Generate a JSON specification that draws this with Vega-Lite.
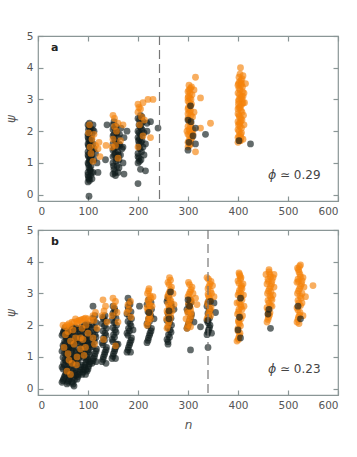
{
"$schema": "https://vega.github.io/schema/vega-lite/v6.json",
"background": "white",
"padding": {"left": 3, "top": 30, "right": 4, "bottom": 5},
"spacing": 6,
"config": {
  "font": "DejaVu Sans",
  "view": {"stroke": "#8a9696", "strokeWidth": 1.2},
  "axis": {"domain": false, "grid": false, "tickColor": "#8a9696", "tickWidth": 1.2, "tickSize": -5, "labelColor": "#555", "labelFontSize": 10.5, "labelFont": "DejaVu Sans", "titleFont": "DejaVu Sans", "titleFontWeight": "normal", "titleColor": "#555", "titleFontSize": 12, "titleFontStyle": "italic"}
},
"datasets": {
"a": [
{"n":102,"v":-0.05,"g":"k"},{"n":100,"v":0.4,"g":"k"},{"n":103,"v":0.45,"g":"k"},{"n":101,"v":0.55,"g":"k"},{"n":105,"v":0.6,"g":"k"},{"n":100,"v":0.7,"g":"k"},{"n":104,"v":0.75,"g":"k"},{"n":102,"v":0.85,"g":"k"},{"n":106,"v":0.9,"g":"k"},{"n":100,"v":1.0,"g":"k"},{"n":103,"v":1.05,"g":"k"},{"n":105,"v":1.15,"g":"k"},{"n":101,"v":1.2,"g":"k"},{"n":104,"v":1.3,"g":"k"},{"n":100,"v":1.35,"g":"k"},{"n":106,"v":1.4,"g":"k"},{"n":102,"v":1.5,"g":"k"},{"n":100,"v":1.6,"g":"k"},{"n":104,"v":1.65,"g":"k"},{"n":101,"v":1.75,"g":"k"},{"n":105,"v":1.8,"g":"k"},{"n":100,"v":1.9,"g":"k"},{"n":103,"v":1.95,"g":"k"},{"n":101,"v":2.05,"g":"k"},{"n":105,"v":2.1,"g":"k"},{"n":100,"v":2.2,"g":"k"},{"n":103,"v":2.25,"g":"k"},{"n":108,"v":0.5,"g":"k"},{"n":110,"v":0.7,"g":"k"},{"n":120,"v":0.7,"g":"k"},{"n":112,"v":1.1,"g":"k"},{"n":115,"v":1.3,"g":"k"},{"n":110,"v":1.6,"g":"k"},{"n":108,"v":1.9,"g":"k"},{"n":112,"v":2.0,"g":"k"},{"n":138,"v":2.2,"g":"k"},{"n":135,"v":1.1,"g":"k"},{"n":118,"v":1.0,"g":"k"},{"n":112,"v":1.45,"g":"k"},{"n":108,"v":1.25,"g":"k"},{"n":110,"v":2.2,"g":"k"},
{"n":102,"v":0.5,"g":"k"},{"n":100,"v":0.62,"g":"k"},{"n":104,"v":0.8,"g":"k"},{"n":101,"v":0.95,"g":"k"},{"n":103,"v":1.1,"g":"k"},{"n":100,"v":1.25,"g":"k"},{"n":105,"v":1.45,"g":"k"},{"n":101,"v":1.55,"g":"k"},{"n":103,"v":1.7,"g":"k"},{"n":100,"v":1.82,"g":"k"},{"n":104,"v":2.0,"g":"k"},{"n":102,"v":2.15,"g":"k"},{"n":106,"v":1.6,"g":"k"},{"n":106,"v":1.1,"g":"k"},{"n":107,"v":0.7,"g":"k"},{"n":109,"v":1.4,"g":"k"},{"n":109,"v":2.05,"g":"k"},{"n":107,"v":1.75,"g":"k"},
{"n":150,"v":0.65,"g":"k"},{"n":155,"v":0.6,"g":"k"},{"n":160,"v":0.7,"g":"k"},{"n":152,"v":0.8,"g":"k"},{"n":158,"v":0.9,"g":"k"},{"n":150,"v":1.0,"g":"k"},{"n":156,"v":1.05,"g":"k"},{"n":162,"v":1.1,"g":"k"},{"n":150,"v":1.2,"g":"k"},{"n":155,"v":1.3,"g":"k"},{"n":160,"v":1.35,"g":"k"},{"n":152,"v":1.45,"g":"k"},{"n":158,"v":1.5,"g":"k"},{"n":164,"v":1.55,"g":"k"},{"n":150,"v":1.6,"g":"k"},{"n":155,"v":1.7,"g":"k"},{"n":160,"v":1.8,"g":"k"},{"n":152,"v":1.9,"g":"k"},{"n":158,"v":1.95,"g":"k"},{"n":150,"v":2.05,"g":"k"},{"n":156,"v":2.15,"g":"k"},{"n":152,"v":2.3,"g":"k"},{"n":165,"v":1.25,"g":"k"},{"n":168,"v":1.45,"g":"k"},{"n":170,"v":1.0,"g":"k"},{"n":172,"v":0.65,"g":"k"},{"n":178,"v":2.0,"g":"k"},{"n":172,"v":1.8,"g":"k"},{"n":170,"v":1.5,"g":"k"},{"n":166,"v":2.1,"g":"k"},{"n":162,"v":0.85,"g":"k"},
{"n":154,"v":0.7,"g":"k"},{"n":151,"v":0.9,"g":"k"},{"n":157,"v":1.15,"g":"k"},{"n":153,"v":1.25,"g":"k"},{"n":150,"v":1.4,"g":"k"},{"n":157,"v":1.6,"g":"k"},{"n":153,"v":1.75,"g":"k"},{"n":150,"v":1.85,"g":"k"},{"n":157,"v":2.0,"g":"k"},{"n":153,"v":2.1,"g":"k"},{"n":150,"v":2.2,"g":"k"},{"n":162,"v":1.6,"g":"k"},{"n":163,"v":1.9,"g":"k"},{"n":161,"v":1.25,"g":"k"},
{"n":200,"v":0.35,"g":"k"},{"n":205,"v":0.8,"g":"k"},{"n":215,"v":0.75,"g":"k"},{"n":200,"v":1.0,"g":"k"},{"n":206,"v":1.1,"g":"k"},{"n":212,"v":1.25,"g":"k"},{"n":200,"v":1.3,"g":"k"},{"n":204,"v":1.45,"g":"k"},{"n":210,"v":1.5,"g":"k"},{"n":202,"v":1.6,"g":"k"},{"n":208,"v":1.7,"g":"k"},{"n":200,"v":1.8,"g":"k"},{"n":205,"v":1.9,"g":"k"},{"n":212,"v":1.95,"g":"k"},{"n":200,"v":2.0,"g":"k"},{"n":206,"v":2.1,"g":"k"},{"n":202,"v":2.2,"g":"k"},{"n":210,"v":2.3,"g":"k"},{"n":200,"v":2.4,"g":"k"},{"n":205,"v":2.5,"g":"k"},{"n":225,"v":2.3,"g":"k"},{"n":240,"v":2.1,"g":"k"},{"n":218,"v":2.0,"g":"k"},{"n":215,"v":1.6,"g":"k"},{"n":218,"v":2.25,"g":"k"},{"n":202,"v":1.15,"g":"k"},
{"n":203,"v":1.05,"g":"k"},{"n":200,"v":1.2,"g":"k"},{"n":207,"v":1.35,"g":"k"},{"n":202,"v":1.5,"g":"k"},{"n":206,"v":1.65,"g":"k"},{"n":203,"v":1.75,"g":"k"},{"n":208,"v":1.85,"g":"k"},{"n":202,"v":1.95,"g":"k"},{"n":208,"v":2.05,"g":"k"},{"n":204,"v":2.15,"g":"k"},{"n":207,"v":2.25,"g":"k"},{"n":203,"v":2.35,"g":"k"},{"n":208,"v":2.45,"g":"k"},{"n":201,"v":1.7,"g":"k"},
{"n":103,"v":2.2,"g":"o"},{"n":108,"v":1.75,"g":"o"},{"n":115,"v":1.55,"g":"o"},{"n":122,"v":1.65,"g":"o"},{"n":106,"v":1.3,"g":"o"},{"n":110,"v":1.05,"g":"o"},{"n":136,"v":1.55,"g":"o"},{"n":112,"v":1.9,"g":"o"},{"n":124,"v":1.2,"g":"o"},{"n":104,"v":1.5,"g":"o"},{"n":120,"v":1.45,"g":"o"},{"n":101,"v":1.95,"g":"o"},
{"n":150,"v":2.5,"g":"o"},{"n":153,"v":2.4,"g":"o"},{"n":160,"v":2.25,"g":"o"},{"n":157,"v":2.0,"g":"o"},{"n":150,"v":1.75,"g":"o"},{"n":155,"v":1.55,"g":"o"},{"n":165,"v":1.7,"g":"o"},{"n":160,"v":1.15,"g":"o"},{"n":170,"v":2.2,"g":"o"},{"n":148,"v":1.5,"g":"o"},{"n":153,"v":2.15,"g":"o"},
{"n":200,"v":2.85,"g":"o"},{"n":205,"v":2.7,"g":"o"},{"n":210,"v":2.9,"g":"o"},{"n":220,"v":3.0,"g":"o"},{"n":230,"v":3.0,"g":"o"},{"n":200,"v":2.6,"g":"o"},{"n":207,"v":2.45,"g":"o"},{"n":203,"v":2.2,"g":"o"},{"n":210,"v":1.85,"g":"o"},{"n":225,"v":1.8,"g":"o"},{"n":200,"v":1.5,"g":"o"},{"n":213,"v":2.35,"g":"o"},{"n":202,"v":2.75,"g":"o"},
{"n":300,"v":1.5,"g":"o"},{"n":305,"v":1.6,"g":"o"},{"n":302,"v":1.7,"g":"o"},{"n":308,"v":1.8,"g":"o"},{"n":300,"v":1.9,"g":"o"},{"n":304,"v":2.0,"g":"o"},{"n":310,"v":2.05,"g":"o"},{"n":300,"v":2.15,"g":"o"},{"n":306,"v":2.25,"g":"o"},{"n":302,"v":2.35,"g":"o"},{"n":309,"v":2.45,"g":"o"},{"n":300,"v":2.55,"g":"o"},{"n":305,"v":2.65,"g":"o"},{"n":301,"v":2.75,"g":"o"},{"n":307,"v":2.85,"g":"o"},{"n":300,"v":2.95,"g":"o"},{"n":304,"v":3.05,"g":"o"},{"n":308,"v":3.15,"g":"o"},{"n":300,"v":3.25,"g":"o"},{"n":305,"v":3.35,"g":"o"},{"n":302,"v":3.45,"g":"o"},{"n":312,"v":3.3,"g":"o"},{"n":315,"v":3.7,"g":"o"},{"n":325,"v":3.05,"g":"o"},{"n":345,"v":2.25,"g":"o"},{"n":325,"v":2.1,"g":"o"},{"n":315,"v":1.35,"g":"o"},{"n":310,"v":1.9,"g":"o"},{"n":312,"v":2.6,"g":"o"},{"n":298,"v":2.0,"g":"o"},
{"n":303,"v":1.55,"g":"o"},{"n":300,"v":1.65,"g":"o"},{"n":306,"v":1.75,"g":"o"},{"n":303,"v":1.85,"g":"o"},{"n":307,"v":1.95,"g":"o"},{"n":302,"v":2.05,"g":"o"},{"n":305,"v":2.15,"g":"o"},{"n":303,"v":2.3,"g":"o"},{"n":300,"v":2.4,"g":"o"},{"n":306,"v":2.5,"g":"o"},{"n":303,"v":2.6,"g":"o"},{"n":300,"v":2.7,"g":"o"},{"n":305,"v":2.8,"g":"o"},{"n":303,"v":2.9,"g":"o"},{"n":306,"v":3.0,"g":"o"},{"n":301,"v":3.1,"g":"o"},{"n":304,"v":3.2,"g":"o"},{"n":302,"v":3.3,"g":"o"},{"n":307,"v":3.4,"g":"o"},{"n":300,"v":3.05,"g":"o"},
{"n":400,"v":1.65,"g":"o"},{"n":405,"v":1.7,"g":"o"},{"n":410,"v":1.75,"g":"o"},{"n":402,"v":1.85,"g":"o"},{"n":407,"v":1.95,"g":"o"},{"n":400,"v":2.05,"g":"o"},{"n":404,"v":2.15,"g":"o"},{"n":412,"v":2.2,"g":"o"},{"n":400,"v":2.3,"g":"o"},{"n":406,"v":2.4,"g":"o"},{"n":402,"v":2.5,"g":"o"},{"n":408,"v":2.6,"g":"o"},{"n":400,"v":2.7,"g":"o"},{"n":405,"v":2.8,"g":"o"},{"n":410,"v":2.9,"g":"o"},{"n":402,"v":3.0,"g":"o"},{"n":407,"v":3.1,"g":"o"},{"n":400,"v":3.2,"g":"o"},{"n":404,"v":3.3,"g":"o"},{"n":409,"v":3.4,"g":"o"},{"n":401,"v":3.5,"g":"o"},{"n":406,"v":3.6,"g":"o"},{"n":402,"v":3.7,"g":"o"},{"n":410,"v":3.75,"g":"o"},{"n":405,"v":4.0,"g":"o"},{"n":415,"v":3.5,"g":"o"},{"n":412,"v":3.2,"g":"o"},{"n":413,"v":2.9,"g":"o"},{"n":411,"v":2.5,"g":"o"},{"n":403,"v":2.25,"g":"o"},{"n":408,"v":3.0,"g":"o"},{"n":404,"v":2.75,"g":"o"},{"n":400,"v":3.45,"g":"o"},{"n":406,"v":1.8,"g":"o"},
{"n":403,"v":1.7,"g":"o"},{"n":400,"v":1.8,"g":"o"},{"n":405,"v":1.9,"g":"o"},{"n":402,"v":2.0,"g":"o"},{"n":407,"v":2.1,"g":"o"},{"n":401,"v":2.2,"g":"o"},{"n":405,"v":2.3,"g":"o"},{"n":408,"v":2.35,"g":"o"},{"n":403,"v":2.45,"g":"o"},{"n":400,"v":2.55,"g":"o"},{"n":406,"v":2.65,"g":"o"},{"n":402,"v":2.75,"g":"o"},{"n":408,"v":2.85,"g":"o"},{"n":401,"v":2.95,"g":"o"},{"n":405,"v":3.05,"g":"o"},{"n":403,"v":3.15,"g":"o"},{"n":409,"v":3.25,"g":"o"},{"n":402,"v":3.35,"g":"o"},{"n":406,"v":3.45,"g":"o"},{"n":403,"v":3.55,"g":"o"},{"n":408,"v":3.65,"g":"o"},{"n":404,"v":3.8,"g":"o"},{"n":407,"v":3.5,"g":"o"},{"n":410,"v":3.1,"g":"o"},{"n":401,"v":2.85,"g":"o"},
{"n":305,"v":2.8,"g":"k"},{"n":300,"v":2.35,"g":"k"},{"n":306,"v":2.3,"g":"k"},{"n":315,"v":2.1,"g":"k"},{"n":310,"v":1.85,"g":"k"},{"n":300,"v":1.4,"g":"k"},{"n":315,"v":1.6,"g":"k"},{"n":335,"v":1.9,"g":"k"},{"n":302,"v":1.65,"g":"k"},{"n":425,"v":1.6,"g":"k"},{"n":402,"v":1.7,"g":"k"}
],
"b": [
{"n":48,"v":0.2,"g":"k"},{"n":51,"v":0.3,"g":"k"},{"n":54,"v":0.42,"g":"k"},{"n":57,"v":0.55,"g":"k"},{"n":48,"v":0.68,"g":"k"},{"n":51,"v":0.8,"g":"k"},{"n":54,"v":0.92,"g":"k"},{"n":57,"v":1.05,"g":"k"},{"n":48,"v":1.18,"g":"k"},{"n":51,"v":1.3,"g":"k"},{"n":54,"v":1.42,"g":"k"},{"n":57,"v":1.55,"g":"k"},{"n":48,"v":1.68,"g":"k"},{"n":51,"v":1.8,"g":"k"},{"n":54,"v":1.92,"g":"k"},
{"n":50,"v":0.25,"g":"k"},{"n":53,"v":0.36,"g":"k"},{"n":56,"v":0.48,"g":"k"},{"n":50,"v":0.62,"g":"k"},{"n":53,"v":0.74,"g":"k"},{"n":56,"v":0.86,"g":"k"},{"n":50,"v":0.98,"g":"k"},{"n":53,"v":1.12,"g":"k"},{"n":56,"v":1.24,"g":"k"},{"n":50,"v":1.36,"g":"k"},{"n":53,"v":1.48,"g":"k"},{"n":56,"v":1.62,"g":"k"},{"n":50,"v":1.74,"g":"k"},{"n":53,"v":1.86,"g":"k"},
{"n":58,"v":0.15,"g":"k"},{"n":61,"v":0.25,"g":"k"},{"n":64,"v":0.38,"g":"k"},{"n":67,"v":0.5,"g":"k"},{"n":58,"v":0.62,"g":"k"},{"n":61,"v":0.75,"g":"k"},{"n":64,"v":0.88,"g":"k"},{"n":67,"v":1.0,"g":"k"},{"n":58,"v":1.12,"g":"k"},{"n":61,"v":1.25,"g":"k"},{"n":64,"v":1.38,"g":"k"},{"n":67,"v":1.5,"g":"k"},{"n":58,"v":1.62,"g":"k"},{"n":61,"v":1.75,"g":"k"},{"n":64,"v":1.88,"g":"k"},{"n":67,"v":1.95,"g":"k"},
{"n":60,"v":0.2,"g":"k"},{"n":63,"v":0.32,"g":"k"},{"n":66,"v":0.44,"g":"k"},{"n":60,"v":0.56,"g":"k"},{"n":63,"v":0.68,"g":"k"},{"n":66,"v":0.82,"g":"k"},{"n":60,"v":0.94,"g":"k"},{"n":63,"v":1.06,"g":"k"},{"n":66,"v":1.18,"g":"k"},{"n":60,"v":1.32,"g":"k"},{"n":63,"v":1.44,"g":"k"},{"n":66,"v":1.56,"g":"k"},{"n":60,"v":1.68,"g":"k"},{"n":63,"v":1.82,"g":"k"},
{"n":72,"v":0.08,"g":"k"},{"n":68,"v":0.2,"g":"k"},{"n":71,"v":0.35,"g":"k"},{"n":74,"v":0.48,"g":"k"},{"n":77,"v":0.6,"g":"k"},{"n":68,"v":0.72,"g":"k"},{"n":71,"v":0.85,"g":"k"},{"n":74,"v":0.98,"g":"k"},{"n":77,"v":1.1,"g":"k"},{"n":68,"v":1.22,"g":"k"},{"n":71,"v":1.35,"g":"k"},{"n":74,"v":1.48,"g":"k"},{"n":77,"v":1.6,"g":"k"},{"n":68,"v":1.72,"g":"k"},{"n":71,"v":1.85,"g":"k"},{"n":74,"v":1.95,"g":"k"},
{"n":70,"v":0.14,"g":"k"},{"n":73,"v":0.28,"g":"k"},{"n":76,"v":0.42,"g":"k"},{"n":70,"v":0.54,"g":"k"},{"n":73,"v":0.66,"g":"k"},{"n":76,"v":0.78,"g":"k"},{"n":70,"v":0.92,"g":"k"},{"n":73,"v":1.04,"g":"k"},{"n":76,"v":1.16,"g":"k"},{"n":70,"v":1.28,"g":"k"},{"n":73,"v":1.42,"g":"k"},{"n":76,"v":1.54,"g":"k"},{"n":70,"v":1.66,"g":"k"},{"n":73,"v":1.78,"g":"k"},{"n":76,"v":1.9,"g":"k"},
{"n":78,"v":0.3,"g":"k"},{"n":81,"v":0.45,"g":"k"},{"n":84,"v":0.6,"g":"k"},{"n":87,"v":0.75,"g":"k"},{"n":78,"v":0.9,"g":"k"},{"n":81,"v":1.05,"g":"k"},{"n":84,"v":1.2,"g":"k"},{"n":87,"v":1.35,"g":"k"},{"n":78,"v":1.5,"g":"k"},{"n":81,"v":1.65,"g":"k"},{"n":84,"v":1.8,"g":"k"},{"n":87,"v":1.95,"g":"k"},
{"n":80,"v":0.38,"g":"k"},{"n":83,"v":0.52,"g":"k"},{"n":86,"v":0.68,"g":"k"},{"n":80,"v":0.82,"g":"k"},{"n":83,"v":0.98,"g":"k"},{"n":86,"v":1.12,"g":"k"},{"n":80,"v":1.28,"g":"k"},{"n":83,"v":1.42,"g":"k"},{"n":86,"v":1.58,"g":"k"},{"n":80,"v":1.72,"g":"k"},{"n":83,"v":1.88,"g":"k"},
{"n":88,"v":0.45,"g":"k"},{"n":91,"v":0.6,"g":"k"},{"n":94,"v":0.75,"g":"k"},{"n":97,"v":0.9,"g":"k"},{"n":88,"v":1.05,"g":"k"},{"n":91,"v":1.2,"g":"k"},{"n":94,"v":1.35,"g":"k"},{"n":97,"v":1.5,"g":"k"},{"n":88,"v":1.65,"g":"k"},{"n":91,"v":1.8,"g":"k"},{"n":94,"v":1.95,"g":"k"},{"n":97,"v":2.05,"g":"k"},
{"n":90,"v":0.52,"g":"k"},{"n":93,"v":0.68,"g":"k"},{"n":96,"v":0.82,"g":"k"},{"n":90,"v":0.98,"g":"k"},{"n":93,"v":1.12,"g":"k"},{"n":96,"v":1.28,"g":"k"},{"n":90,"v":1.42,"g":"k"},{"n":93,"v":1.58,"g":"k"},{"n":96,"v":1.72,"g":"k"},{"n":90,"v":1.88,"g":"k"},{"n":93,"v":2.0,"g":"k"},
{"n":98,"v":0.55,"g":"k"},{"n":101,"v":0.7,"g":"k"},{"n":104,"v":0.85,"g":"k"},{"n":98,"v":1.0,"g":"k"},{"n":101,"v":1.15,"g":"k"},{"n":104,"v":1.3,"g":"k"},{"n":98,"v":1.45,"g":"k"},{"n":101,"v":1.6,"g":"k"},{"n":104,"v":1.75,"g":"k"},{"n":98,"v":1.9,"g":"k"},{"n":101,"v":2.0,"g":"k"},{"n":95,"v":0.45,"g":"k"},{"n":96,"v":0.6,"g":"k"},
{"n":100,"v":0.62,"g":"k"},{"n":103,"v":0.78,"g":"k"},{"n":100,"v":0.92,"g":"k"},{"n":103,"v":1.08,"g":"k"},{"n":100,"v":1.22,"g":"k"},{"n":103,"v":1.38,"g":"k"},{"n":100,"v":1.52,"g":"k"},{"n":103,"v":1.68,"g":"k"},{"n":100,"v":1.82,"g":"k"},{"n":103,"v":1.95,"g":"k"},
{"n":108,"v":0.8,"g":"k"},{"n":111,"v":0.95,"g":"k"},{"n":114,"v":1.1,"g":"k"},{"n":117,"v":1.25,"g":"k"},{"n":108,"v":1.4,"g":"k"},{"n":111,"v":1.55,"g":"k"},{"n":114,"v":1.7,"g":"k"},{"n":117,"v":1.85,"g":"k"},{"n":108,"v":2.0,"g":"k"},{"n":111,"v":2.15,"g":"k"},{"n":114,"v":2.3,"g":"k"},{"n":110,"v":2.6,"g":"k"},{"n":116,"v":0.85,"g":"k"},
{"n":110,"v":0.88,"g":"k"},{"n":113,"v":1.02,"g":"k"},{"n":116,"v":1.18,"g":"k"},{"n":110,"v":1.32,"g":"k"},{"n":113,"v":1.48,"g":"k"},{"n":116,"v":1.62,"g":"k"},{"n":110,"v":1.78,"g":"k"},{"n":113,"v":1.92,"g":"k"},{"n":116,"v":2.08,"g":"k"},{"n":110,"v":2.22,"g":"k"},
{"n":128,"v":0.85,"g":"k"},{"n":131,"v":1.0,"g":"k"},{"n":134,"v":1.15,"g":"k"},{"n":137,"v":1.3,"g":"k"},{"n":128,"v":1.45,"g":"k"},{"n":131,"v":1.6,"g":"k"},{"n":134,"v":1.75,"g":"k"},{"n":137,"v":1.9,"g":"k"},{"n":128,"v":2.05,"g":"k"},{"n":131,"v":2.2,"g":"k"},{"n":134,"v":2.3,"g":"k"},{"n":136,"v":0.8,"g":"k"},
{"n":130,"v":0.92,"g":"k"},{"n":133,"v":1.08,"g":"k"},{"n":136,"v":1.22,"g":"k"},{"n":130,"v":1.38,"g":"k"},{"n":133,"v":1.52,"g":"k"},{"n":136,"v":1.68,"g":"k"},{"n":130,"v":1.82,"g":"k"},{"n":133,"v":1.98,"g":"k"},{"n":136,"v":2.12,"g":"k"},{"n":130,"v":2.25,"g":"k"},
{"n":148,"v":0.95,"g":"k"},{"n":151,"v":1.1,"g":"k"},{"n":154,"v":1.25,"g":"k"},{"n":157,"v":1.4,"g":"k"},{"n":148,"v":1.55,"g":"k"},{"n":151,"v":1.7,"g":"k"},{"n":154,"v":1.85,"g":"k"},{"n":157,"v":2.0,"g":"k"},{"n":148,"v":2.15,"g":"k"},{"n":151,"v":2.3,"g":"k"},{"n":154,"v":2.45,"g":"k"},{"n":150,"v":2.6,"g":"k"},{"n":160,"v":1.4,"g":"k"},{"n":155,"v":0.95,"g":"k"},
{"n":150,"v":1.02,"g":"k"},{"n":153,"v":1.18,"g":"k"},{"n":156,"v":1.32,"g":"k"},{"n":150,"v":1.48,"g":"k"},{"n":153,"v":1.62,"g":"k"},{"n":156,"v":1.78,"g":"k"},{"n":150,"v":1.92,"g":"k"},{"n":153,"v":2.08,"g":"k"},{"n":156,"v":2.22,"g":"k"},{"n":150,"v":2.38,"g":"k"},{"n":153,"v":2.52,"g":"k"},
{"n":178,"v":1.15,"g":"k"},{"n":181,"v":1.3,"g":"k"},{"n":184,"v":1.45,"g":"k"},{"n":187,"v":1.6,"g":"k"},{"n":178,"v":1.75,"g":"k"},{"n":181,"v":1.9,"g":"k"},{"n":184,"v":2.05,"g":"k"},{"n":187,"v":2.2,"g":"k"},{"n":178,"v":2.35,"g":"k"},{"n":181,"v":2.5,"g":"k"},{"n":184,"v":2.65,"g":"k"},{"n":180,"v":2.85,"g":"k"},{"n":185,"v":1.15,"g":"k"},{"n":190,"v":1.85,"g":"k"},{"n":203,"v":2.6,"g":"k"},
{"n":180,"v":1.22,"g":"k"},{"n":183,"v":1.38,"g":"k"},{"n":186,"v":1.52,"g":"k"},{"n":180,"v":1.68,"g":"k"},{"n":183,"v":1.82,"g":"k"},{"n":186,"v":1.98,"g":"k"},{"n":180,"v":2.12,"g":"k"},{"n":183,"v":2.28,"g":"k"},{"n":186,"v":2.42,"g":"k"},{"n":180,"v":2.58,"g":"k"},{"n":183,"v":2.72,"g":"k"},
{"n":218,"v":1.45,"g":"k"},{"n":221,"v":1.6,"g":"k"},{"n":224,"v":1.75,"g":"k"},{"n":227,"v":1.9,"g":"k"},{"n":218,"v":2.05,"g":"k"},{"n":221,"v":2.2,"g":"k"},{"n":224,"v":2.35,"g":"k"},{"n":227,"v":2.5,"g":"k"},{"n":218,"v":2.65,"g":"k"},{"n":221,"v":2.8,"g":"k"},{"n":232,"v":2.2,"g":"k"},
{"n":220,"v":1.52,"g":"k"},{"n":223,"v":1.68,"g":"k"},{"n":226,"v":1.82,"g":"k"},{"n":220,"v":1.98,"g":"k"},{"n":223,"v":2.12,"g":"k"},{"n":226,"v":2.28,"g":"k"},{"n":220,"v":2.42,"g":"k"},{"n":223,"v":2.58,"g":"k"},{"n":226,"v":2.72,"g":"k"},
{"n":260,"v":1.4,"g":"k"},{"n":258,"v":1.55,"g":"k"},{"n":261,"v":1.7,"g":"k"},{"n":264,"v":1.85,"g":"k"},{"n":267,"v":2.0,"g":"k"},{"n":258,"v":2.15,"g":"k"},{"n":261,"v":2.3,"g":"k"},{"n":264,"v":2.45,"g":"k"},{"n":267,"v":2.6,"g":"k"},{"n":258,"v":2.75,"g":"k"},{"n":261,"v":2.9,"g":"k"},{"n":272,"v":2.5,"g":"k"},
{"n":260,"v":1.48,"g":"k"},{"n":263,"v":1.62,"g":"k"},{"n":266,"v":1.78,"g":"k"},{"n":260,"v":1.92,"g":"k"},{"n":263,"v":2.08,"g":"k"},{"n":266,"v":2.22,"g":"k"},{"n":260,"v":2.38,"g":"k"},{"n":263,"v":2.52,"g":"k"},{"n":266,"v":2.68,"g":"k"},{"n":260,"v":2.82,"g":"k"},
{"n":298,"v":1.9,"g":"k"},{"n":301,"v":2.05,"g":"k"},{"n":304,"v":2.2,"g":"k"},{"n":307,"v":2.35,"g":"k"},{"n":298,"v":2.5,"g":"k"},{"n":301,"v":2.65,"g":"k"},{"n":304,"v":2.8,"g":"k"},{"n":305,"v":1.22,"g":"k"},{"n":325,"v":1.95,"g":"k"},{"n":312,"v":2.1,"g":"k"},
{"n":300,"v":1.98,"g":"k"},{"n":303,"v":2.12,"g":"k"},{"n":306,"v":2.28,"g":"k"},{"n":300,"v":2.42,"g":"k"},{"n":303,"v":2.58,"g":"k"},{"n":306,"v":2.72,"g":"k"},
{"n":338,"v":1.7,"g":"k"},{"n":341,"v":1.85,"g":"k"},{"n":344,"v":2.0,"g":"k"},{"n":338,"v":2.15,"g":"k"},{"n":341,"v":2.3,"g":"k"},{"n":344,"v":2.45,"g":"k"},{"n":338,"v":2.6,"g":"k"},{"n":341,"v":2.75,"g":"k"},{"n":340,"v":1.3,"g":"k"},{"n":355,"v":2.4,"g":"k"},{"n":352,"v":2.7,"g":"k"},{"n":347,"v":1.75,"g":"k"},
{"n":340,"v":1.78,"g":"k"},{"n":343,"v":1.92,"g":"k"},{"n":340,"v":2.08,"g":"k"},{"n":343,"v":2.22,"g":"k"},{"n":340,"v":2.38,"g":"k"},{"n":343,"v":2.52,"g":"k"},{"n":340,"v":2.68,"g":"k"},
{"n":50,"v":2.0,"g":"o"},{"n":55,"v":1.95,"g":"o"},{"n":62,"v":2.05,"g":"o"},{"n":68,"v":2.1,"g":"o"},{"n":75,"v":2.2,"g":"o"},{"n":85,"v":2.15,"g":"o"},{"n":92,"v":2.2,"g":"o"},{"n":100,"v":2.2,"g":"o"},{"n":55,"v":1.7,"g":"o"},{"n":65,"v":1.5,"g":"o"},{"n":72,"v":1.4,"g":"o"},{"n":60,"v":1.1,"g":"o"},{"n":68,"v":0.8,"g":"o"},{"n":58,"v":0.55,"g":"o"},{"n":78,"v":1.0,"g":"o"},{"n":85,"v":1.6,"g":"o"},{"n":95,"v":1.3,"g":"o"},{"n":100,"v":1.75,"g":"o"},{"n":88,"v":1.9,"g":"o"},{"n":80,"v":2.05,"g":"o"},{"n":70,"v":1.85,"g":"o"},{"n":52,"v":1.3,"g":"o"},{"n":65,"v":0.45,"g":"o"},{"n":90,"v":1.55,"g":"o"},{"n":82,"v":2.15,"g":"o"},{"n":96,"v":2.0,"g":"o"},
{"n":58,"v":2.0,"g":"o"},{"n":64,"v":1.98,"g":"o"},{"n":72,"v":2.1,"g":"o"},{"n":78,"v":2.12,"g":"o"},{"n":88,"v":2.18,"g":"o"},{"n":95,"v":2.22,"g":"o"},{"n":105,"v":2.15,"g":"o"},{"n":60,"v":1.8,"g":"o"},{"n":75,"v":1.6,"g":"o"},{"n":85,"v":1.25,"g":"o"},{"n":62,"v":0.9,"g":"o"},{"n":77,"v":0.75,"g":"o"},{"n":92,"v":1.05,"g":"o"},
{"n":110,"v":2.3,"g":"o"},{"n":115,"v":2.4,"g":"o"},{"n":112,"v":2.15,"g":"o"},{"n":118,"v":1.9,"g":"o"},{"n":110,"v":1.6,"g":"o"},{"n":113,"v":1.4,"g":"o"},
{"n":130,"v":2.8,"g":"o"},{"n":135,"v":2.6,"g":"o"},{"n":132,"v":2.45,"g":"o"},{"n":128,"v":2.3,"g":"o"},{"n":138,"v":2.1,"g":"o"},{"n":131,"v":1.55,"g":"o"},
{"n":150,"v":2.85,"g":"o"},{"n":155,"v":2.75,"g":"o"},{"n":152,"v":2.6,"g":"o"},{"n":158,"v":2.4,"g":"o"},{"n":148,"v":2.3,"g":"o"},{"n":155,"v":1.35,"g":"o"},{"n":160,"v":2.1,"g":"o"},
{"n":182,"v":2.5,"g":"o"},{"n":185,"v":2.75,"g":"o"},{"n":180,"v":2.65,"g":"o"},{"n":178,"v":2.4,"g":"o"},{"n":186,"v":2.25,"g":"o"},
{"n":218,"v":2.0,"g":"o"},{"n":221,"v":2.2,"g":"o"},{"n":224,"v":2.4,"g":"o"},{"n":218,"v":2.55,"g":"o"},{"n":222,"v":2.7,"g":"o"},{"n":226,"v":2.85,"g":"o"},{"n":219,"v":3.0,"g":"o"},{"n":222,"v":3.15,"g":"o"},{"n":228,"v":2.6,"g":"o"},{"n":230,"v":2.9,"g":"o"},{"n":225,"v":2.2,"g":"o"},
{"n":220,"v":2.1,"g":"o"},{"n":223,"v":2.3,"g":"o"},{"n":220,"v":2.48,"g":"o"},{"n":224,"v":2.62,"g":"o"},{"n":220,"v":2.78,"g":"o"},{"n":224,"v":2.92,"g":"o"},{"n":221,"v":3.08,"g":"o"},
{"n":258,"v":1.9,"g":"o"},{"n":262,"v":2.1,"g":"o"},{"n":265,"v":2.3,"g":"o"},{"n":258,"v":2.45,"g":"o"},{"n":262,"v":2.6,"g":"o"},{"n":266,"v":2.75,"g":"o"},{"n":259,"v":2.9,"g":"o"},{"n":263,"v":3.05,"g":"o"},{"n":267,"v":3.2,"g":"o"},{"n":260,"v":3.35,"g":"o"},{"n":263,"v":3.5,"g":"o"},{"n":270,"v":3.0,"g":"o"},{"n":272,"v":2.65,"g":"o"},{"n":257,"v":2.2,"g":"o"},{"n":268,"v":2.45,"g":"o"},
{"n":260,"v":2.0,"g":"o"},{"n":264,"v":2.2,"g":"o"},{"n":260,"v":2.38,"g":"o"},{"n":264,"v":2.52,"g":"o"},{"n":260,"v":2.68,"g":"o"},{"n":264,"v":2.82,"g":"o"},{"n":261,"v":2.98,"g":"o"},{"n":265,"v":3.12,"g":"o"},{"n":262,"v":3.28,"g":"o"},{"n":265,"v":3.42,"g":"o"},
{"n":298,"v":1.9,"g":"o"},{"n":302,"v":2.1,"g":"o"},{"n":306,"v":2.3,"g":"o"},{"n":299,"v":2.45,"g":"o"},{"n":303,"v":2.6,"g":"o"},{"n":307,"v":2.75,"g":"o"},{"n":300,"v":2.9,"g":"o"},{"n":304,"v":3.05,"g":"o"},{"n":308,"v":3.2,"g":"o"},{"n":301,"v":3.35,"g":"o"},{"n":310,"v":3.0,"g":"o"},{"n":315,"v":2.85,"g":"o"},{"n":318,"v":2.65,"g":"o"},{"n":296,"v":2.2,"g":"o"},{"n":305,"v":1.95,"g":"o"},
{"n":300,"v":2.0,"g":"o"},{"n":304,"v":2.2,"g":"o"},{"n":300,"v":2.38,"g":"o"},{"n":305,"v":2.52,"g":"o"},{"n":301,"v":2.68,"g":"o"},{"n":305,"v":2.82,"g":"o"},{"n":302,"v":2.98,"g":"o"},{"n":306,"v":3.12,"g":"o"},{"n":303,"v":3.28,"g":"o"},{"n":306,"v":2.4,"g":"o"},
{"n":338,"v":2.2,"g":"o"},{"n":342,"v":2.4,"g":"o"},{"n":346,"v":2.55,"g":"o"},{"n":339,"v":2.7,"g":"o"},{"n":343,"v":2.85,"g":"o"},{"n":347,"v":3.0,"g":"o"},{"n":340,"v":3.15,"g":"o"},{"n":344,"v":3.3,"g":"o"},{"n":341,"v":3.45,"g":"o"},{"n":349,"v":3.25,"g":"o"},{"n":352,"v":2.9,"g":"o"},{"n":345,"v":2.3,"g":"o"},{"n":338,"v":3.5,"g":"o"},
{"n":340,"v":2.3,"g":"o"},{"n":344,"v":2.48,"g":"o"},{"n":341,"v":2.62,"g":"o"},{"n":345,"v":2.78,"g":"o"},{"n":341,"v":2.92,"g":"o"},{"n":345,"v":3.08,"g":"o"},{"n":342,"v":3.22,"g":"o"},{"n":346,"v":3.38,"g":"o"},{"n":340,"v":2.98,"g":"o"},
{"n":398,"v":1.5,"g":"o"},{"n":401,"v":1.6,"g":"o"},{"n":404,"v":1.75,"g":"o"},{"n":400,"v":1.9,"g":"o"},{"n":403,"v":2.05,"g":"o"},{"n":406,"v":2.2,"g":"o"},{"n":399,"v":2.35,"g":"o"},{"n":402,"v":2.5,"g":"o"},{"n":405,"v":2.65,"g":"o"},{"n":408,"v":2.8,"g":"o"},{"n":400,"v":2.95,"g":"o"},{"n":403,"v":3.1,"g":"o"},{"n":407,"v":3.25,"g":"o"},{"n":400,"v":3.4,"g":"o"},{"n":404,"v":3.55,"g":"o"},{"n":402,"v":3.65,"g":"o"},{"n":410,"v":3.3,"g":"o"},{"n":411,"v":2.95,"g":"o"},{"n":412,"v":2.6,"g":"o"},{"n":409,"v":2.3,"g":"o"},{"n":405,"v":3.45,"g":"o"},{"n":398,"v":2.7,"g":"o"},{"n":406,"v":3.0,"g":"o"},{"n":401,"v":2.15,"g":"o"},
{"n":401,"v":1.55,"g":"o"},{"n":403,"v":1.68,"g":"o"},{"n":400,"v":1.82,"g":"o"},{"n":405,"v":1.98,"g":"o"},{"n":401,"v":2.1,"g":"o"},{"n":404,"v":2.28,"g":"o"},{"n":401,"v":2.42,"g":"o"},{"n":406,"v":2.58,"g":"o"},{"n":402,"v":2.72,"g":"o"},{"n":406,"v":2.88,"g":"o"},{"n":402,"v":3.02,"g":"o"},{"n":406,"v":3.18,"g":"o"},{"n":402,"v":3.32,"g":"o"},{"n":406,"v":3.5,"g":"o"},{"n":403,"v":3.6,"g":"o"},{"n":408,"v":2.5,"g":"o"},{"n":408,"v":3.15,"g":"o"},
{"n":458,"v":2.1,"g":"o"},{"n":461,"v":2.25,"g":"o"},{"n":464,"v":2.4,"g":"o"},{"n":458,"v":2.55,"g":"o"},{"n":462,"v":2.7,"g":"o"},{"n":466,"v":2.85,"g":"o"},{"n":459,"v":3.0,"g":"o"},{"n":463,"v":3.15,"g":"o"},{"n":467,"v":3.3,"g":"o"},{"n":460,"v":3.45,"g":"o"},{"n":464,"v":3.6,"g":"o"},{"n":462,"v":3.75,"g":"o"},{"n":470,"v":3.5,"g":"o"},{"n":472,"v":3.2,"g":"o"},{"n":470,"v":2.95,"g":"o"},{"n":468,"v":2.6,"g":"o"},{"n":458,"v":3.3,"g":"o"},{"n":466,"v":3.05,"g":"o"},{"n":460,"v":2.35,"g":"o"},{"n":472,"v":3.6,"g":"o"},{"n":456,"v":3.6,"g":"o"},
{"n":460,"v":2.18,"g":"o"},{"n":463,"v":2.32,"g":"o"},{"n":460,"v":2.48,"g":"o"},{"n":465,"v":2.62,"g":"o"},{"n":460,"v":2.78,"g":"o"},{"n":464,"v":2.92,"g":"o"},{"n":461,"v":3.08,"g":"o"},{"n":465,"v":3.22,"g":"o"},{"n":461,"v":3.38,"g":"o"},{"n":465,"v":3.52,"g":"o"},{"n":462,"v":3.68,"g":"o"},{"n":468,"v":3.4,"g":"o"},{"n":468,"v":2.8,"g":"o"},
{"n":518,"v":2.1,"g":"o"},{"n":521,"v":2.25,"g":"o"},{"n":524,"v":2.4,"g":"o"},{"n":518,"v":2.55,"g":"o"},{"n":522,"v":2.7,"g":"o"},{"n":526,"v":2.85,"g":"o"},{"n":519,"v":3.0,"g":"o"},{"n":523,"v":3.15,"g":"o"},{"n":527,"v":3.3,"g":"o"},{"n":520,"v":3.45,"g":"o"},{"n":524,"v":3.6,"g":"o"},{"n":521,"v":3.75,"g":"o"},{"n":525,"v":3.9,"g":"o"},{"n":530,"v":3.5,"g":"o"},{"n":532,"v":3.2,"g":"o"},{"n":535,"v":2.9,"g":"o"},{"n":530,"v":2.3,"g":"o"},{"n":550,"v":3.25,"g":"o"},{"n":518,"v":3.35,"g":"o"},{"n":528,"v":3.0,"g":"o"},{"n":522,"v":2.05,"g":"o"},{"n":519,"v":3.8,"g":"o"},
{"n":520,"v":2.18,"g":"o"},{"n":523,"v":2.32,"g":"o"},{"n":520,"v":2.48,"g":"o"},{"n":525,"v":2.62,"g":"o"},{"n":520,"v":2.78,"g":"o"},{"n":524,"v":2.92,"g":"o"},{"n":521,"v":3.08,"g":"o"},{"n":525,"v":3.22,"g":"o"},{"n":521,"v":3.38,"g":"o"},{"n":525,"v":3.52,"g":"o"},{"n":522,"v":3.68,"g":"o"},{"n":523,"v":3.85,"g":"o"},{"n":528,"v":3.4,"g":"o"},{"n":528,"v":2.7,"g":"o"},
{"n":265,"v":3.05,"g":"k"},{"n":262,"v":2.45,"g":"k"},{"n":300,"v":2.8,"g":"k"},{"n":303,"v":2.6,"g":"k"},{"n":345,"v":2.75,"g":"k"},{"n":340,"v":2.15,"g":"k"},{"n":400,"v":1.85,"g":"k"},{"n":405,"v":2.85,"g":"k"},{"n":405,"v":1.6,"g":"k"},{"n":403,"v":2.25,"g":"k"},{"n":462,"v":2.5,"g":"k"},{"n":465,"v":1.9,"g":"k"},{"n":460,"v":2.35,"g":"k"},{"n":520,"v":2.6,"g":"k"},{"n":525,"v":2.2,"g":"k"},{"n":222,"v":2.4,"g":"k"},{"n":262,"v":2.2,"g":"k"}
]
},
"vconcat": [
{
  "width": 300, "height": 165,
  "layer": [
    {"data": {"name": "a"}, "mark": {"type": "circle", "size": 46, "opacity": 0.65},
     "encoding": {
       "x": {"field": "n", "type": "quantitative", "scale": {"domain": [0, 600], "nice": false, "zero": false}, "axis": {"values": [0,100,200,300,400,500,600], "title": null, "labelPadding": 10}},
       "y": {"field": "v", "type": "quantitative", "scale": {"domain": [-0.2, 5], "nice": false, "zero": false}, "axis": {"values": [0,1,2,3,4,5], "title": "ψ", "labelPadding": 10, "titlePadding": 9}},
       "color": {"field": "g", "type": "nominal", "scale": {"domain": ["k","o"], "range": ["#101c1c", "#f5820a"]}, "legend": null}
     }},
    {"data": {"values": [{"n": 243}]}, "mark": {"type": "rule", "strokeDash": [9,5], "color": "#777", "strokeWidth": 1.2},
     "encoding": {"x": {"field": "n", "type": "quantitative", "scale": {"domain": [0, 600], "nice": false, "zero": false}, "axis": null}}},
    {"data": {"values": [{"n": 26, "v": 4.62, "t": "a"}]}, "mark": {"type": "text", "fontWeight": "bold", "fontSize": 11, "align": "left", "color": "#222"},
     "encoding": {
       "x": {"field": "n", "type": "quantitative", "scale": {"domain": [0, 600], "nice": false, "zero": false}, "axis": {"orient": "top", "labels": false, "values": [0,100,200,300,400,500,600], "title": null, "maxExtent": 0, "minExtent": 0}},
       "y": {"field": "v", "type": "quantitative", "scale": {"domain": [-0.2, 5], "nice": false, "zero": false}, "axis": {"orient": "right", "labels": false, "values": [0,1,2,3,4,5], "title": null, "maxExtent": 0, "minExtent": 0}},
       "text": {"field": "t"}}},
    {"data": {"values": [{"n": 460, "v": 0.63, "t": "ϕ"}]}, "mark": {"type": "text", "fontStyle": "italic", "fontSize": 12.5, "align": "left", "color": "#444"},
     "encoding": {"x": {"field": "n", "type": "quantitative", "scale": {"domain": [0, 600], "nice": false, "zero": false}, "axis": null}, "y": {"field": "v", "type": "quantitative", "scale": {"domain": [-0.2, 5], "nice": false, "zero": false}, "axis": null}, "text": {"field": "t"}}},
    {"data": {"values": [{"n": 484, "v": 0.63, "t": "≃ 0.29"}]}, "mark": {"type": "text", "fontSize": 12, "align": "left", "color": "#444"},
     "encoding": {"x": {"field": "n", "type": "quantitative", "scale": {"domain": [0, 600], "nice": false, "zero": false}, "axis": null}, "y": {"field": "v", "type": "quantitative", "scale": {"domain": [-0.2, 5], "nice": false, "zero": false}, "axis": null}, "text": {"field": "t"}}}
  ],
  "resolve": {"axis": {"x": "independent", "y": "independent"}}
},
{
  "width": 300, "height": 165,
  "layer": [
    {"data": {"name": "b"}, "mark": {"type": "circle", "size": 46, "opacity": 0.65},
     "encoding": {
       "x": {"field": "n", "type": "quantitative", "scale": {"domain": [0, 600], "nice": false, "zero": false}, "axis": {"values": [0,100,200,300,400,500,600], "title": "n", "labelPadding": 10, "titlePadding": 9}},
       "y": {"field": "v", "type": "quantitative", "scale": {"domain": [-0.2, 5], "nice": false, "zero": false}, "axis": {"values": [0,1,2,3,4,5], "title": "ψ", "labelPadding": 10, "titlePadding": 9}},
       "color": {"field": "g", "type": "nominal", "scale": {"domain": ["k","o"], "range": ["#101c1c", "#f5820a"]}, "legend": null}
     }},
    {"data": {"values": [{"n": 340}]}, "mark": {"type": "rule", "strokeDash": [9,5], "color": "#777", "strokeWidth": 1.2},
     "encoding": {"x": {"field": "n", "type": "quantitative", "scale": {"domain": [0, 600], "nice": false, "zero": false}, "axis": null}}},
    {"data": {"values": [{"n": 26, "v": 4.62, "t": "b"}]}, "mark": {"type": "text", "fontWeight": "bold", "fontSize": 11, "align": "left", "color": "#222"},
     "encoding": {
       "x": {"field": "n", "type": "quantitative", "scale": {"domain": [0, 600], "nice": false, "zero": false}, "axis": {"orient": "top", "labels": false, "values": [0,100,200,300,400,500,600], "title": null, "maxExtent": 0, "minExtent": 0}},
       "y": {"field": "v", "type": "quantitative", "scale": {"domain": [-0.2, 5], "nice": false, "zero": false}, "axis": {"orient": "right", "labels": false, "values": [0,1,2,3,4,5], "title": null, "maxExtent": 0, "minExtent": 0}},
       "text": {"field": "t"}}},
    {"data": {"values": [{"n": 460, "v": 0.63, "t": "ϕ"}]}, "mark": {"type": "text", "fontStyle": "italic", "fontSize": 12.5, "align": "left", "color": "#444"},
     "encoding": {"x": {"field": "n", "type": "quantitative", "scale": {"domain": [0, 600], "nice": false, "zero": false}, "axis": null}, "y": {"field": "v", "type": "quantitative", "scale": {"domain": [-0.2, 5], "nice": false, "zero": false}, "axis": null}, "text": {"field": "t"}}},
    {"data": {"values": [{"n": 484, "v": 0.63, "t": "≃ 0.23"}]}, "mark": {"type": "text", "fontSize": 12, "align": "left", "color": "#444"},
     "encoding": {"x": {"field": "n", "type": "quantitative", "scale": {"domain": [0, 600], "nice": false, "zero": false}, "axis": null}, "y": {"field": "v", "type": "quantitative", "scale": {"domain": [-0.2, 5], "nice": false, "zero": false}, "axis": null}, "text": {"field": "t"}}}
  ],
  "resolve": {"axis": {"x": "independent", "y": "independent"}}
}
]
}
